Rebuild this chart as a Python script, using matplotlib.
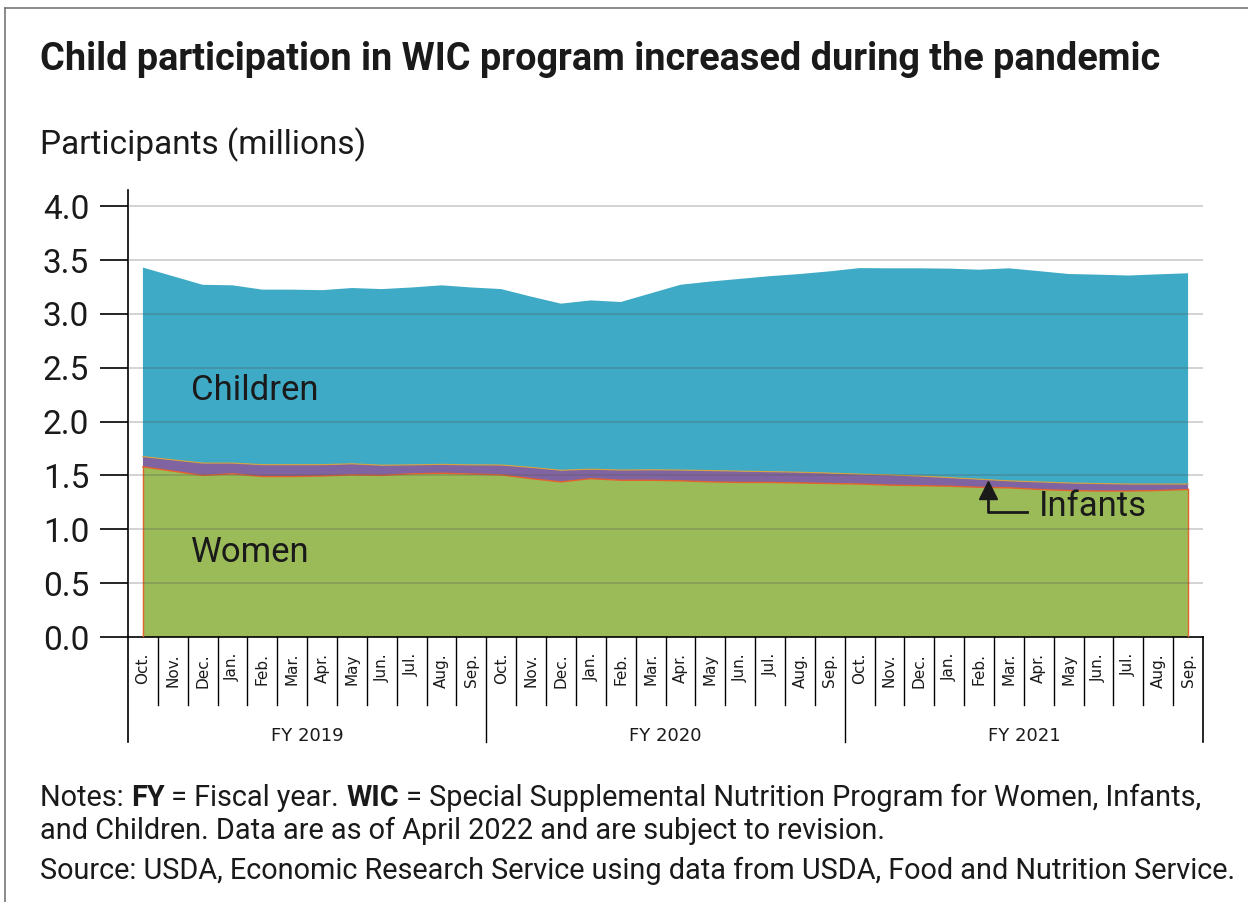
import numpy as np
import matplotlib
matplotlib.use("Agg")
import matplotlib.pyplot as plt
import matplotlib.transforms as mtransforms
from matplotlib.lines import Line2D

plt.rcParams['font.family'] = ['Roboto', 'DejaVu Sans']

# =========================
# data (millions)
# =========================
months = ["Oct.", "Nov.", "Dec.", "Jan.", "Feb.", "Mar.", "Apr.", "May",
          "Jun.", "Jul.", "Aug.", "Sep."] * 3
fiscal_years = ["FY 2019", "FY 2020", "FY 2021"]

women = [1.58, 1.54, 1.50, 1.515, 1.49, 1.49, 1.495, 1.505, 1.50, 1.515, 1.52, 1.513,
         1.505, 1.47, 1.44, 1.47, 1.455, 1.455, 1.45, 1.44, 1.435, 1.435, 1.43, 1.425,
         1.42, 1.41, 1.405, 1.40, 1.39, 1.385, 1.37, 1.36, 1.355, 1.355, 1.36, 1.37]
infants = [0.095, 0.105, 0.115, 0.10, 0.11, 0.11, 0.105, 0.103, 0.095, 0.083, 0.083, 0.085,
           0.092, 0.105, 0.108, 0.088, 0.095, 0.097, 0.10, 0.105, 0.105, 0.10, 0.10, 0.097,
           0.092, 0.095, 0.09, 0.08, 0.075, 0.065, 0.07, 0.07, 0.07, 0.065, 0.06, 0.05]
children = [1.755, 1.705, 1.655, 1.65, 1.625, 1.625, 1.62, 1.632, 1.635, 1.647, 1.662, 1.647,
            1.633, 1.585, 1.547, 1.567, 1.56, 1.638, 1.72, 1.755, 1.785, 1.815, 1.84, 1.873,
            1.913, 1.918, 1.928, 1.94, 1.945, 1.973, 1.957, 1.94, 1.939, 1.936, 1.947, 1.957]

yticks = [0.0, 0.5, 1.0, 1.5, 2.0, 2.5, 3.0, 3.5, 4.0]

x = np.arange(len(months))
W, H = 1248, 902

fig = plt.figure(figsize=(W / 100, H / 100), dpi=100)
ax = fig.add_axes([128 / W, 1 - 637 / H, (1203 - 128) / W, (637 - 190) / H])

# =========================
# stacked areas
# =========================
ax.stackplot(x, women, infants, children,
             colors=["#9bbb59", "#8064a2", "#3faac6"], linewidth=0, zorder=2)
w = np.array(women)
wi = w + np.array(infants)
ax.plot(x, w, color="#e4622c", lw=1.0, zorder=3)
ax.plot(x, wi, color="#d9a13a", lw=0.8, zorder=3)
ax.plot([x[0], x[0]], [0, w[0]], color="#e4622c", lw=1.0, zorder=3)
ax.plot([x[-1], x[-1]], [0, w[-1]], color="#e4622c", lw=1.0, zorder=3)

ax.set_xlim(-0.5, len(months) - 0.5)
ax.set_ylim(0, 4.15)

for v in yticks[1:]:
    ax.axhline(v, color="#555555", alpha=0.3, lw=1.2, zorder=4)

ax.set_yticks(yticks)
ax.set_yticklabels([f"{v:.1f}" for v in yticks], fontsize=24, color="#1a1a1a")
ax.tick_params(axis="y", length=20, width=1.2, pad=8)
ax.set_xticks([])
for s in ["top", "right"]:
    ax.spines[s].set_visible(False)
ax.spines["left"].set_linewidth(1.2)
ax.spines["bottom"].set_linewidth(1.2)
ax.spines["left"].set_bounds(0, 4.15)

# =========================
# category axis (months / fiscal years)
# =========================
tr = mtransforms.blended_transform_factory(ax.transData, ax.transAxes)
for k in range(len(months)):
    ax.text(x[k], -0.036, months[k], rotation=90, ha="center", va="top",
            fontsize=11, family="DejaVu Sans", color="#1a1a1a", transform=tr)
for k in range(len(months) - 1):
    bottom = -0.235 if (k + 1) % 12 == 0 else -0.152
    ax.add_line(Line2D([k + 0.5, k + 0.5], [0, bottom], color="black", lw=1.0,
                       transform=tr, clip_on=False))
for xe in [-0.5, len(months) - 0.5]:
    ax.add_line(Line2D([xe, xe], [0, -0.235], color="black", lw=1.2,
                       transform=tr, clip_on=False))
for i, fy in enumerate(fiscal_years):
    ax.text(i * 12 + 5.5, -0.222, fy, ha="center", va="center", fontsize=13,
            family="DejaVu Sans", color="#1a1a1a", transform=tr)

# =========================
# series labels
# =========================
ax.text(1.6, 2.29, "Children", fontsize=25, va="center", color="#1a1a1a", zorder=5)
ax.text(1.6, 0.78, "Women", fontsize=25, va="center", color="#1a1a1a", zorder=5)
ax.text(30.0, 1.21, "Infants", fontsize=25, va="center", color="#1a1a1a", zorder=5)
ax.plot([28.3, 28.3, 29.6], [1.33, 1.16, 1.16], color="#1a1a1a", lw=2, zorder=5)
ax.plot([28.3], [1.365], marker="^", markersize=13, color="#1a1a1a", zorder=5)

# =========================
# title, notes, frame
# =========================
fig.text(40 / W, 1 - 60 / H, "Child participation in WIC program increased during the pandemic",
         fontsize=27.3, fontweight="bold", va="center", color="#1a1a1a")
fig.text(40 / W, 1 - 145 / H, "Participants (millions)", fontsize=24, va="center",
         color="#1a1a1a")


def rich_line(x0, y0, parts, size):
    r = fig.canvas.get_renderer()
    xp = x0
    for txt, bold in parts:
        t = fig.text(xp / W, 1 - y0 / H, txt, fontsize=size, va="center",
                     fontweight="bold" if bold else "normal", color="#1a1a1a")
        bb = t.get_window_extent(renderer=r)
        xp += bb.width


rich_line(40, 798, [("Notes: ", False), ("FY", True), (" = Fiscal year. ", False),
                    ("WIC", True),
                    (" = Special Supplemental Nutrition Program for Women, Infants,", False)], 20.8)
rich_line(40, 831, [("and Children. Data are as of April 2022 and are subject to revision.", False)], 20.8)
rich_line(40, 871, [("Source: USDA, Economic Research Service using data from USDA, Food and Nutrition Service.", False)], 20.8)

fig.add_artist(Line2D([5 / W, 5 / W], [0, 1 - 8 / H], color="#777777", lw=1.2))
fig.add_artist(Line2D([5 / W, 1], [1 - 8 / H, 1 - 8 / H], color="#777777", lw=1.2))

fig.savefig("out.png", dpi=100)
